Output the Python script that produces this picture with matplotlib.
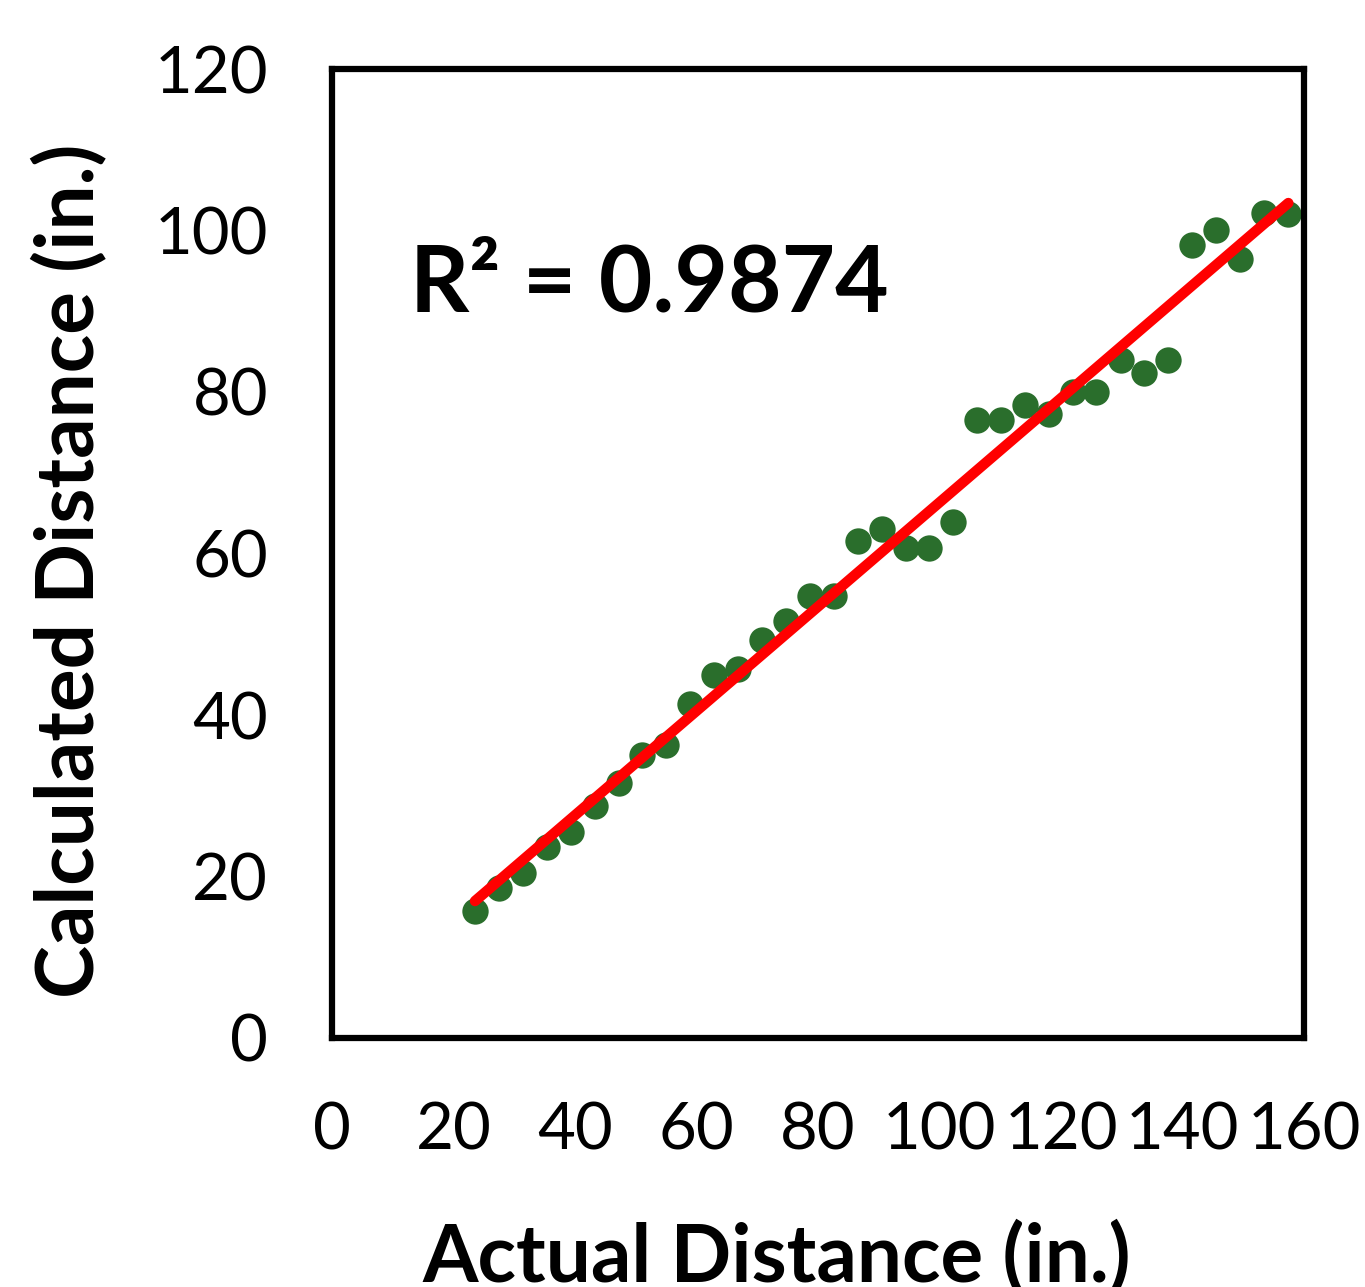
import numpy as np
import matplotlib
matplotlib.use('Agg')
import matplotlib.pyplot as plt

plt.rcParams['font.family'] = ['Lato', 'DejaVu Sans']

# Data
actual = [23.54, 27.54, 31.44, 35.34, 39.34, 43.29, 47.19, 51.08, 55.03, 58.88,
          62.88, 66.78, 70.78, 74.73, 78.68, 82.63, 86.53, 90.49, 94.44, 98.32,
          102.27, 106.22, 110.12, 114.07, 118.02, 121.93, 125.81, 129.83, 133.71,
          137.66, 141.61, 145.51, 149.46, 153.37, 157.42]
calculated = [15.76, 18.54, 20.47, 23.62, 25.55, 28.77, 31.54, 35.05, 36.25, 41.40,
              44.95, 45.73, 49.29, 51.64, 54.74, 54.74, 61.51, 63.03, 60.64, 60.72,
              63.86, 76.50, 76.50, 78.43, 77.24, 80.00, 80.00, 83.96, 82.39, 83.96,
              98.17, 100.10, 96.51, 102.13, 102.08]
x_ticks = [0, 20, 40, 60, 80, 100, 120, 140, 160]
y_ticks = [0, 20, 40, 60, 80, 100, 120]
r2_label = 'R\u00b2 = 0.9874'

fig = plt.figure(figsize=(13.65, 12.87), dpi=100)
ax = fig.add_axes([332 / 1365, 1 - 1038 / 1287, 972 / 1365, 969 / 1287])

# Scatter points
ax.scatter(actual, calculated, s=360, color='#2a6e2c', zorder=2, linewidths=0)

# Linear trendline over the data range
slope, intercept = np.polyfit(actual, calculated, 1)
xs = np.array([min(actual), max(actual)])
ax.plot(xs, slope * xs + intercept, color='#ff0000', linewidth=7.5,
        solid_capstyle='round', zorder=3)

ax.text(12.8, 90.0, r2_label, fontsize=66.5, fontweight='bold', va='baseline', ha='left')

ax.set_xlim(0, 160)
ax.set_ylim(0, 120)
ax.set_xticks(x_ticks)
ax.set_yticks(y_ticks)
ax.tick_params(length=0, labelsize=47, pad=46)
for s in ax.spines.values():
    s.set_linewidth(4.5)
    s.set_color('black')

fig.text(777 / 1365, 1 - 1282 / 1287, 'Actual Distance (in.)', fontsize=57.5,
         fontweight='bold', ha='center', va='baseline')
fig.text(70 / 1365, 1 - 571 / 1287, 'Calculated Distance (in.)', fontsize=57.5,
         fontweight='bold', ha='center', va='center', rotation=90)

fig.savefig('out.png', dpi=100)
